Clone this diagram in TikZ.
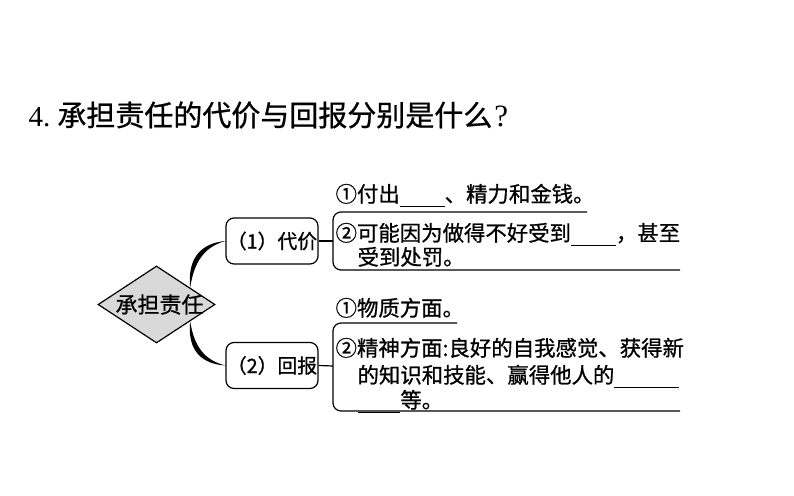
\documentclass[tikz,border=0pt]{standalone}
\usepackage{fontspec}
\setmainfont{Liberation Serif}
\newfontfamily\cjk[FakeBold=0.8]{Noto Sans CJK SC}
\usetikzlibrary{shapes.geometric,calc}
\newcommand\myblank[1]{\rule[-0.22em]{#1}{0.8pt}}
\begin{document}
\begin{tikzpicture}[x=1pt,y=-1pt,
  line width=1.2pt,
  body/.style={anchor=base west,inner sep=0pt,font=\cjk\fontsize{21.4}{25}\selectfont},
  boxnode/.style={draw,rounded corners=8pt,minimum width=92pt,minimum height=46pt,inner sep=0pt,font=\cjk\fontsize{19.8}{24}\selectfont},
  diam/.style={draw,shape=diamond,fill=black!15,minimum width=117pt,minimum height=77pt,inner sep=0pt}
]
\useasboundingbox (0,0) rectangle (794,495);
\fill[white] (0,0) rectangle (794,495);

% title
\node[anchor=base west,inner sep=0pt] (title) at (28,126)
  {\fontsize{29}{32}\selectfont 4.\hspace{7pt}{\cjk 承担责任的代价与回报分别是什么}\hspace{2pt}{\fontsize{31}{32}\selectfont ?}};

% diamond
\node[diam] (d) at (156.5,304.5) {};
\node[inner sep=0pt,font=\cjk\fontsize{22}{26}\selectfont] (dt) at ([xshift=3pt]d.center) {承担责任};

% boxes
\node[boxnode] (b1) at (272,241) {（1）代价};
\node[boxnode] (b2) at (272,365.5) {（2）回报};

% curved connectors
\coordinate (u0) at ($(d.north)!0.57!(d.east)$);
\coordinate (l0) at ($(d.south)!0.57!(d.east)$);
\fill (u0) .. controls (187,256) and (203,243) .. (b1.west)
      .. controls (204,247) and (194,262) .. (u0) -- cycle;
\fill (l0) .. controls (187,352) and (203,364) .. (b2.west)
      .. controls (204,360) and (194,346) .. (l0) -- cycle;

% brackets
\coordinate (k1) at (333,241);
\coordinate (k2) at (333,366);
\draw (b1.east) -- (k1);
\draw (b2.east) -- (k2);
\draw[rounded corners=8pt] (587,212) -- (333,212) -- (333,270) -- (680,270);
\draw[rounded corners=8pt] (457,323) -- (333,323) -- (333,411) -- (680,411);

% texts upper
\node[body] (t11) at (335,202) {①付出\myblank{2.1em}、精力和金钱。};
\node[body] (t12) at (335,241) {②可能因为做得不好受到\myblank{2.1em}，甚至};
\node[body] (t13) at (357,265) {受到处罚。};

% texts lower
\node[body] (t21) at (335,316) {①物质方面。};
\node[body] (t22) at (335,356) {②精神方面:良好的自我感觉、获得新};
\node[body] (t23) at (357,383) {的知识和技能、赢得他人的\myblank{3em}};
\node[body] (t24) at (357,408) {\myblank{2em}等。};
\end{tikzpicture}
\end{document}
